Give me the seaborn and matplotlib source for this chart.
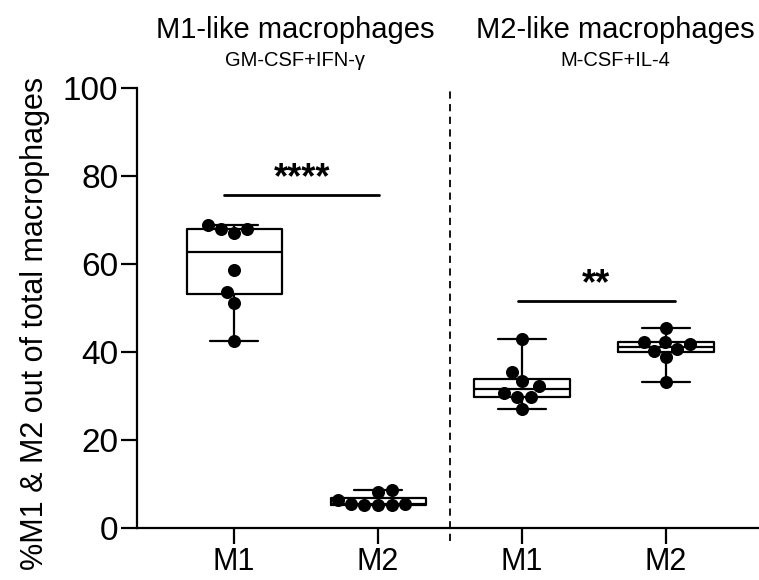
import matplotlib
matplotlib.use("Agg")
import matplotlib.pyplot as plt
import seaborn as sns
import pandas as pd

# ---- data ----
conditions = ["M1-like | M1", "M1-like | M2", "M2-like | M1", "M2-like | M2"]
tick_labels = ["M1", "M2", "M1", "M2"]
m1like_m1 = [68.0, 68.0, 67.0, 68.9, 58.6, 53.7, 51.2, 42.5]
m1like_m2 = [8.2, 8.6, 5.3, 5.5, 6.4, 5.4, 5.3, 5.2]
m2like_m1 = [43.0, 35.5, 33.4, 32.3, 30.7, 29.8, 29.8, 27.0]
m2like_m2 = [45.4, 42.3, 42.3, 41.8, 40.7, 40.3, 38.9, 33.2]
panel_titles = ["M1-like macrophages", "M2-like macrophages"]
panel_subtitles = ["GM-CSF+IFN-\u03b3", "M-CSF+IL-4"]
sig_pairs = [(0, 1), (2, 3)]
sig_heights = [75.7, 51.7]
sig_labels = ["****", "**"]
ylabel = "%M1 & M2 out of total macrophages"

sns.set_style("ticks")
plt.rcParams["font.family"] = ["Liberation Sans", "DejaVu Sans"]
plt.rcParams["text.color"] = "black"
plt.rcParams["axes.labelcolor"] = "black"
plt.rcParams["xtick.color"] = "black"
plt.rcParams["ytick.color"] = "black"

values = [m1like_m1, m1like_m2, m2like_m1, m2like_m2]
df = pd.DataFrame({
    "cond": [c for c, v in zip(conditions, values) for _ in v],
    "value": [x for v in values for x in v],
})

fig = plt.figure(figsize=(7.59, 5.80), dpi=100)
ax = fig.add_axes([137 / 759, 1 - 528 / 580, (759 - 137) / 759, (528 - 88) / 580])

sns.boxplot(data=df, x="cond", y="value", order=conditions, whis=(0, 100),
            width=0.66, fill=False, color="black", linecolor="black",
            linewidth=1.6, showfliers=False, ax=ax, zorder=2)
sns.swarmplot(data=df, x="cond", y="value", order=conditions, color="black",
              size=9.4, ax=ax, zorder=3)

ax.set_xlim(-0.674, 3.646)
ax.set_ylim(0, 100)
ax.set_yticks([0, 20, 40, 60, 80, 100])
ax.set_xticks(range(4))
ax.set_xticklabels(tick_labels)
ax.set_xlabel("")
ax.set_ylabel(ylabel, fontsize=22)
ax.yaxis.set_label_coords(-0.14, 0.466)
ax.tick_params(axis="both", width=1.6, length=11.5, color="black",
               direction="out")
ax.tick_params(axis="y", labelsize=24, pad=2)
ax.tick_params(axis="x", labelsize=22, pad=2)
for side in ["left", "bottom"]:
    ax.spines[side].set_linewidth(1.6)
    ax.spines[side].set_color("black")
sns.despine(ax=ax)

# separator
ax.plot([1.5, 1.5], [-3, 100], ls=(0, (4, 3)), color="black", lw=1.3,
        clip_on=False, zorder=1)

# significance
offs = [(-0.07, 0.01), (-0.03, 0.06)]
for (a, b), h, lab, (o1, o2) in zip(sig_pairs, sig_heights, sig_labels, offs):
    ax.plot([a + o1, b + o2], [h, h], color="black", lw=2)
    ax.text((a + b) / 2 + (o1 + o2) / 2, h - 0.3, lab, ha="center", va="bottom",
            fontsize=26, fontweight="bold")

# panel headings
for fx, t, s in zip([295 / 759, 615 / 759], panel_titles, panel_subtitles):
    fig.text(fx, 1 - 30 / 580, t, ha="center", va="center", fontsize=21)
    fig.text(fx, 1 - 60 / 580, s, ha="center", va="center", fontsize=14.5)

fig.savefig("out.png", dpi=100)
